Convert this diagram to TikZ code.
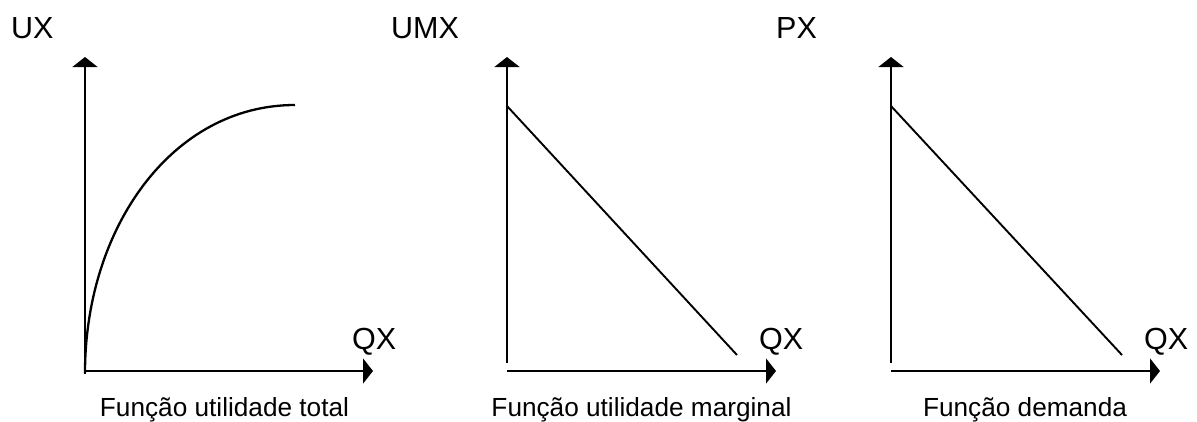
\documentclass[tikz,border=0pt]{standalone}
\usepackage{fontspec}
\setmainfont{Liberation Sans}
\usetikzlibrary{arrows.meta}
\begin{document}
\begin{tikzpicture}[x=1pt,y=-1pt,
  axis/.style={line width=1.8pt,-{Triangle[length=10pt,width=25pt]}},
  curve/.style={line width=2.3pt},
  diag/.style={line width=1.9pt},
  axlabel/.style={anchor=base west,inner sep=0pt,font=\fontsize{30.5}{33}\selectfont},
  caption/.style={anchor=base,inner sep=0pt,font=\fontsize{26.2}{29}\selectfont}]
\useasboundingbox (0,0) rectangle (1197,421);
% graph 1
\coordinate (o1y) at (85,374);
\coordinate (t1) at (85,57);
\coordinate (o1x) at (85,371);
\coordinate (r1) at (373,371);
\coordinate (c1s) at (85,373);
\coordinate (c1e) at (295,105);
\draw[axis] (o1y) -- (t1);
\draw[axis] (o1x) -- (r1);
\draw[curve] (c1s) .. controls (85,228) and (172,105) .. (c1e);
\node[axlabel] (ux) at (11,38.5) {UX};
\node[axlabel] (qx1) at (352,349.5) {QX};
\node[caption] (cap1) at (224.5,416) {Função utilidade total};
% graph 2
\coordinate (o2y) at (507,363);
\coordinate (t2) at (507,57);
\coordinate (o2x) at (507,371);
\coordinate (r2) at (776,371);
\coordinate (d2s) at (507,106);
\coordinate (d2e) at (737,355);
\draw[axis] (o2y) -- (t2);
\draw[axis] (o2x) -- (r2);
\draw[diag] (d2s) -- (d2e);
\node[axlabel] (umx) at (391,38.5) {UMX};
\node[axlabel] (qx2) at (759,349.5) {QX};
\node[caption] (cap2) at (641.5,416) {Função utilidade marginal};
% graph 3
\coordinate (o3y) at (891,363);
\coordinate (t3) at (891,57);
\coordinate (o3x) at (891,371);
\coordinate (r3) at (1160,371);
\coordinate (d3s) at (891,106);
\coordinate (d3e) at (1122,355);
\draw[axis] (o3y) -- (t3);
\draw[axis] (o3x) -- (r3);
\draw[diag] (d3s) -- (d3e);
\node[axlabel] (px) at (776,38.5) {PX};
\node[axlabel] (qx3) at (1144,349.5) {QX};
\node[caption] (cap3) at (1025,416) {Função demanda};
\end{tikzpicture}
\end{document}
